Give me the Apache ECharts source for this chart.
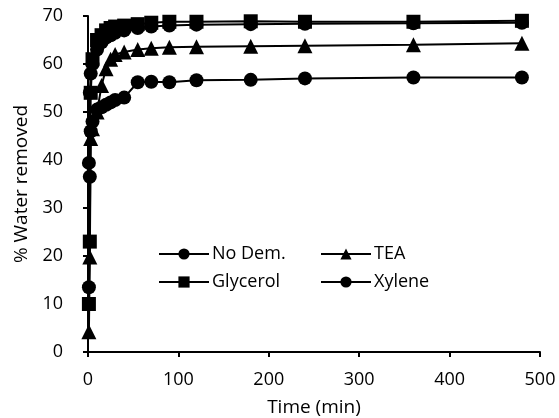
<!DOCTYPE html>
<html>
<head>
<meta charset="utf-8">
<script src="https://cdn.jsdelivr.net/npm/echarts@6/dist/echarts.min.js"></script>
<style>
  html, body { margin: 0; padding: 0; background: #fff; }
  #chart { width: 559px; height: 418px; }
</style>
</head>
<body>
<div id="chart"></div>
<script>
  // time points (min)
  var times = [1, 2, 3, 5, 10, 15, 20, 25, 30, 40, 55, 70, 90, 120, 180, 240, 360, 480]
  // % water removed
  var noDem = [13.5, 36.5, 46, 48, 50.5, 51, 51.5, 52, 52.5, 53, 56.2, 56.3, 56.2, 56.6, 56.7, 57, 57.2, 57.2]
  var tea = [4.2, 19.8, 44.5, 46.5, 50, 55.5, 59, 61, 62, 62.5, 63, 63.3, 63.5, 63.6, 63.7, 63.8, 64, 64.3]
  var glycerol = [10, 23, 54, 61, 65, 66, 67, 67.5, 67.8, 68, 68.3, 68.6, 68.8, 68.8, 68.9, 68.8, 68.8, 69]
  var xylene = [39.4, 54, 58, 60, 63, 64.5, 65.5, 66, 66.5, 67, 67.5, 67.8, 68, 68.2, 68.3, 68.4, 68.5, 68.6]
  var xTicks = [0, 100, 200, 300, 400, 500]
  var yTicks = [0, 10, 20, 30, 40, 50, 60, 70]

  var font = '"Open Sans", sans-serif'

  function pairs(vals) {
    return times.map(function (t, i) { return [t, vals[i]] })
  }

  function makeSeries(name, symbol, vals) {
    return {
      name: name,
      type: 'line',
      symbol: symbol,
      symbolSize: symbol === 'triangle' ? 15 : 14,
      data: pairs(vals),
      itemStyle: { color: '#000' },
      lineStyle: { color: '#000', width: 2 }
    }
  }

  function legendAt(name, left, top) {
    return {
      data: [name],
      left: left,
      top: top,
      itemWidth: 50,
      itemHeight: 14,
      itemGap: 0,
      padding: 0,
      textStyle: { fontFamily: font, fontSize: 18, color: '#000', padding: [0, 0, 0, -2] }
    }
  }

  var myChart = echarts.init(document.getElementById('chart'))
  var option = {
    animation: false,
    grid: { left: 88, right: 19, top: 16, bottom: 66, outerBoundsMode: 'none' },
    legend: [
      legendAt('No Dem.', 158, 245),
      legendAt('TEA', 320, 245),
      legendAt('Glycerol', 158, 273),
      legendAt('Xylene', 320, 273)
    ],
    xAxis: {
      type: 'value',
      min: xTicks[0],
      max: xTicks[xTicks.length - 1],
      interval: 100,
      name: 'Time (min)',
      nameLocation: 'middle',
      nameGap: 46,
      nameTextStyle: { fontFamily: font, fontSize: 19, color: '#000' },
      axisLine: { lineStyle: { color: '#000', width: 2 } },
      axisTick: { show: true, length: 5, lineStyle: { color: '#000', width: 2 } },
      axisLabel: { fontFamily: font, fontSize: 18, color: '#000', margin: 19 },
      splitLine: { show: false }
    },
    yAxis: {
      type: 'value',
      min: yTicks[0],
      max: yTicks[yTicks.length - 1],
      interval: 10,
      name: '% Water removed',
      nameLocation: 'middle',
      nameGap: 47,
      nameTextStyle: { fontFamily: font, fontSize: 19, color: '#000' },
      axisLine: { show: true, lineStyle: { color: '#000', width: 2 } },
      axisTick: { show: true, length: 5, lineStyle: { color: '#000', width: 2 } },
      axisLabel: { fontFamily: font, fontSize: 18, color: '#000', margin: 25 },
      splitLine: { show: false }
    },
    series: [
      makeSeries('No Dem.', 'circle', noDem),
      makeSeries('TEA', 'triangle', tea),
      makeSeries('Glycerol', 'rect', glycerol),
      makeSeries('Xylene', 'circle', xylene)
    ]
  }
  myChart.setOption(option)
</script>
</body>
</html>
